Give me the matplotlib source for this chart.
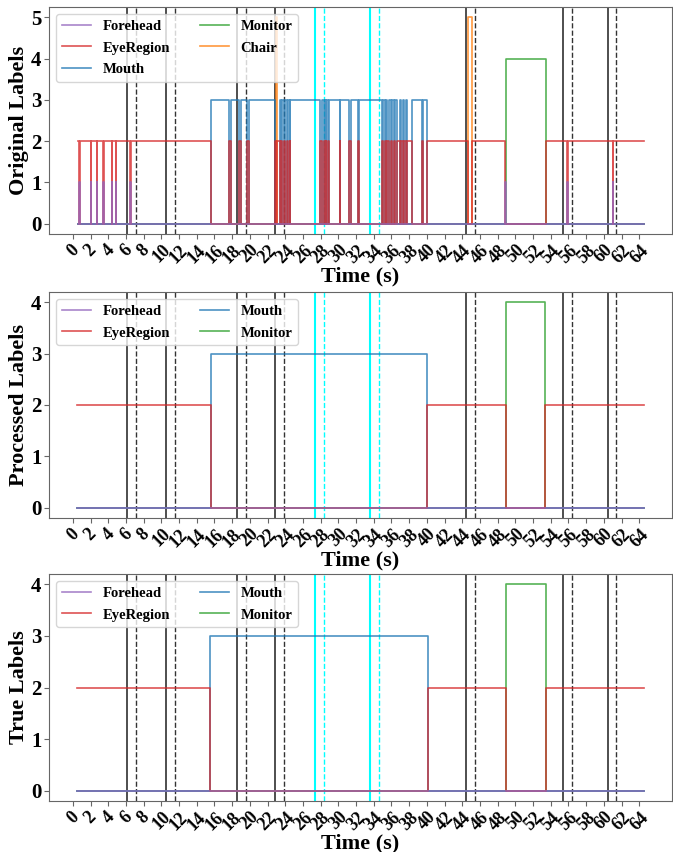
import numpy as np
import matplotlib
matplotlib.use('Agg')
import matplotlib.pyplot as plt

plt.rcParams['font.family'] = ['Liberation Serif', 'DejaVu Serif']
plt.rcParams['font.weight'] = 'bold'
plt.rcParams['axes.labelweight'] = 'bold'

# ---------------- data ----------------
class_names = ['Forehead', 'EyeRegion', 'Mouth', 'Monitor', 'Chair']
class_ids = [1, 2, 3, 4, 5]
class_colors = ['tab:purple', 'tab:red', 'tab:blue', 'tab:green', 'tab:orange']

end_time = 64.5

# original (raw) labels: change-point times and the label that starts there
orig_times = [0.55, 0.72, 0.78, 2.03, 2.10, 2.72, 2.78, 3.40, 3.46, 4.37, 4.43,
              4.86, 4.92, 6.45, 6.51, 15.65,
              17.68, 17.88, 18.78, 18.98, 19.64, 19.86,
              22.88, 23.00, 23.10, 23.35, 23.55, 23.65, 23.85, 23.95,
              24.23, 24.30, 24.52, 24.58,
              27.93, 28.13, 28.38, 28.45, 28.60, 28.65, 28.88, 28.93,
              30.18, 30.23, 31.24, 31.42, 32.25, 32.30,
              34.98, 35.05, 35.28, 35.34, 35.55, 35.70, 35.95, 36.08,
              36.30, 36.45, 36.60, 37.00, 37.05, 37.35, 37.40, 37.65, 37.70, 38.30,
              39.50, 39.60, 40.00, 44.70, 45.15, 48.85, 48.95, 53.45,
              55.88, 55.95, 60.98, 61.05]
orig_labels = [2, 1, 2, 1, 2, 1, 2, 1, 2, 1, 2,
               1, 2, 1, 2, 3,
               2, 3, 2, 3, 2, 3,
               2, 5, 2, 3, 2, 3, 2, 3,
               2, 3, 2, 3,
               2, 3, 2, 3, 2, 3, 2, 3,
               2, 3, 2, 3, 2, 3,
               2, 3, 2, 3, 2, 3, 2, 3,
               2, 3, 2, 3, 2, 3, 2, 3, 2, 3,
               2, 3, 2, 5, 2, 1, 4, 2,
               1, 2, 1, 2]

proc_times = [0.5, 15.6, 40.0, 48.95, 53.4]
proc_labels = [2, 3, 2, 4, 2]

true_times = [0.5, 15.5, 40.1, 48.9, 53.5]
true_labels = [2, 3, 2, 4, 2]

black_solid = [6.15, 10.5, 18.55, 22.85, 44.4, 55.4, 60.45]
black_dashed = [7.15, 11.5, 19.55, 23.85, 45.45, 56.45, 61.4]
cyan_solid = [27.4, 33.6]
cyan_dashed = [28.35, 34.6]

xtick_values = list(range(0, 65, 2))

# ---------------- figure ----------------
W, H = 673, 852
fig = plt.figure(figsize=(W / 100, H / 100), dpi=100)

def add_ax(top_px, bottom_px):
    left, right = 49, 672
    return fig.add_axes([left / W, 1 - bottom_px / H, (right - left) / W,
                         (bottom_px - top_px) / H])

ax_top = add_ax(7, 234)
ax_mid = add_ax(292, 518)
ax_bot = add_ax(574, 801)

def draw(ax, times, labels, present, ylabel, ymax):
    t = np.append(np.array(times, float), end_time)
    lab = np.append(np.array(labels), labels[-1])
    for v in black_solid:
        ax.axvline(v, color='k', lw=1.3, alpha=0.75, zorder=1)
    for v in black_dashed:
        ax.axvline(v, color='k', lw=1.0, ls='--', alpha=0.8, zorder=1)
    for v in cyan_solid:
        ax.axvline(v, color='cyan', lw=1.5, zorder=1)
    for v in cyan_dashed:
        ax.axvline(v, color='cyan', lw=1.0, ls='--', zorder=1)
    for name, cid, col in zip(class_names, class_ids, class_colors):
        if cid not in present:
            continue
        y = np.where(lab == cid, cid, 0)
        ax.step(t, y, where='post', color=col, lw=1.2, alpha=0.8,
                zorder=10 - cid, label=name)
    ax.set_xlim(-2.7, 67.7)
    ax.set_ylim(-0.05 * ymax, ymax * 1.05)
    ax.set_yticks(list(range(0, ymax + 1)))
    ax.set_xticks(xtick_values)
    ax.set_xticklabels([str(v) for v in xtick_values], rotation=45, ha='center',
                       fontsize=13, fontweight='bold')
    for lbl in ax.get_yticklabels():
        lbl.set_fontsize(15)
        lbl.set_fontweight('bold')
    ax.set_xlabel('Time (s)', fontsize=16, fontweight='bold', labelpad=0)
    ax.set_ylabel(ylabel, fontsize=16, fontweight='bold', labelpad=1)
    for sp in ax.spines.values():
        sp.set_color('#666666')
    ax.tick_params(colors='#666666', labelcolor='black', pad=2)
    ax.legend(loc='upper left', ncol=2, prop={'size': 10.5, 'weight': 'bold'},
              labelspacing=0.55)

draw(ax_top, orig_times, orig_labels, [1, 2, 3, 4, 5], 'Original Labels', 5)
draw(ax_mid, proc_times, proc_labels, [1, 2, 3, 4], 'Processed Labels', 4)
draw(ax_bot, true_times, true_labels, [1, 2, 3, 4], 'True Labels', 4)

fig.savefig('out.png', dpi=100)
